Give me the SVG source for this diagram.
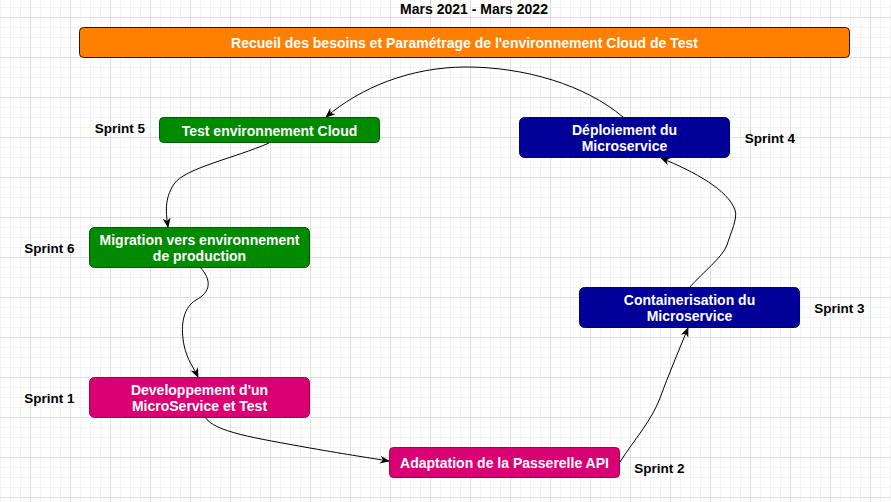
<svg xmlns="http://www.w3.org/2000/svg" width="891" height="502" viewBox="0 0 891 502">
<defs>
<pattern id="grid" x="30" y="17" width="40" height="40" patternUnits="userSpaceOnUse">
<rect x="0" y="0" width="40" height="40" fill="#ffffff"/>
<g fill="#f2f2f2">
<rect x="10" y="0" width="1" height="40"/><rect x="20" y="0" width="1" height="40"/><rect x="30" y="0" width="1" height="40"/>
<rect x="0" y="10" width="40" height="1"/><rect x="0" y="20" width="40" height="1"/><rect x="0" y="30" width="40" height="1"/>
</g>
<g fill="#e0e0e0">
<rect x="0" y="0" width="1" height="40"/><rect x="0" y="0" width="40" height="1"/>
</g>
</pattern>
<marker id="arr" viewBox="0 0 10 10" refX="9" refY="5" markerWidth="10" markerHeight="10" markerUnits="userSpaceOnUse" orient="auto">
<path d="M0,1 L10,5 L0,9 L3,5 z" fill="#000"/>
</marker>
</defs>
<style>
.t{font-family:"Liberation Sans",Arial,sans-serif;font-weight:bold;font-size:14px;text-anchor:middle;dominant-baseline:central}
.s{font-size:13.5px}
.w{fill:#ffffff}
.k{fill:#000000}
.c{fill:none;stroke:#000000;stroke-width:1;marker-end:url(#arr)}
.or{fill:#ff8000;stroke:#1a1a1a}
.gr{fill:#008a00;stroke:#005700}
.bl{fill:#000099;stroke:#00007a}
.pk{fill:#d80073;stroke:#a50040}
</style>
<rect x="0" y="0" width="891" height="502" fill="url(#grid)"/>
<text class="t k" x="474" y="9">Mars 2021 - Mars 2022</text>
<g id="recueil">
<rect class="or" x="79.5" y="27.5" width="770" height="30" rx="4"/>
<text class="t w" x="464.5" y="43">Recueil des besoins et Paramétrage de l'environnement Cloud de Test</text>
</g>
<g id="sprint5">
<rect class="gr" x="159.5" y="117.5" width="220" height="25" rx="4"/>
<text class="t w" x="269.5" y="130.5">Test environnement Cloud</text>
<text class="t s k" x="120" y="128">Sprint 5</text>
</g>
<g id="sprint4">
<rect class="bl" x="519.5" y="117.5" width="210" height="40" rx="5"/>
<text class="t w" x="624.5" y="130">Déploiement du</text>
<text class="t w" x="624.5" y="146">Microservice</text>
<text class="t s k" x="770" y="138">Sprint 4</text>
</g>
<g id="sprint6">
<rect class="gr" x="89.5" y="227.5" width="220" height="40" rx="5"/>
<text class="t w" x="199.5" y="240">Migration vers environnement</text>
<text class="t w" x="199.5" y="256">de production</text>
<text class="t s k" x="49.5" y="248">Sprint 6</text>
</g>
<g id="sprint3">
<rect class="bl" x="579.5" y="287.5" width="220" height="40" rx="5"/>
<text class="t w" x="689.5" y="300">Containerisation du</text>
<text class="t w" x="689.5" y="316">Microservice</text>
<text class="t s k" x="839.5" y="308">Sprint 3</text>
</g>
<g id="sprint1">
<rect class="pk" x="89.5" y="377.5" width="220" height="40" rx="5"/>
<text class="t w" x="199.5" y="390">Developpement d'un</text>
<text class="t w" x="199.5" y="406">MicroService et Test</text>
<text class="t s k" x="49.5" y="398">Sprint 1</text>
</g>
<g id="sprint2">
<rect class="pk" x="389.5" y="447.5" width="230" height="30" rx="4"/>
<text class="t w" x="504.5" y="463">Adaptation de la Passerelle API</text>
<text class="t s k" x="659.5" y="468">Sprint 2</text>
</g>
<g id="connectors">
<path class="c" d="M623,117 C585,85 525,67 466,67 C410,67 360,88 326,117"/>
<path class="c" d="M269,143 C235,158 185,168 174,184 C164,199 166,214 168,227"/>
<path class="c" d="M200,267 C212,280 211,292 196,300 C181,309 181,330 184,345 C187,360 194,368 198,377"/>
<path class="c" d="M205,417 C214,432 255,438 310,448 C350,455 370,458 389,461"/>
<path class="c" d="M620,462 C634,440 652,420 660,398 C668,376 679,350 688,328"/>
<path class="c" d="M690,287 C703,272 722,258 727,245 C731,232 738,218 735,210 C728,190 695,172 661,158"/>
</g>
</svg>
